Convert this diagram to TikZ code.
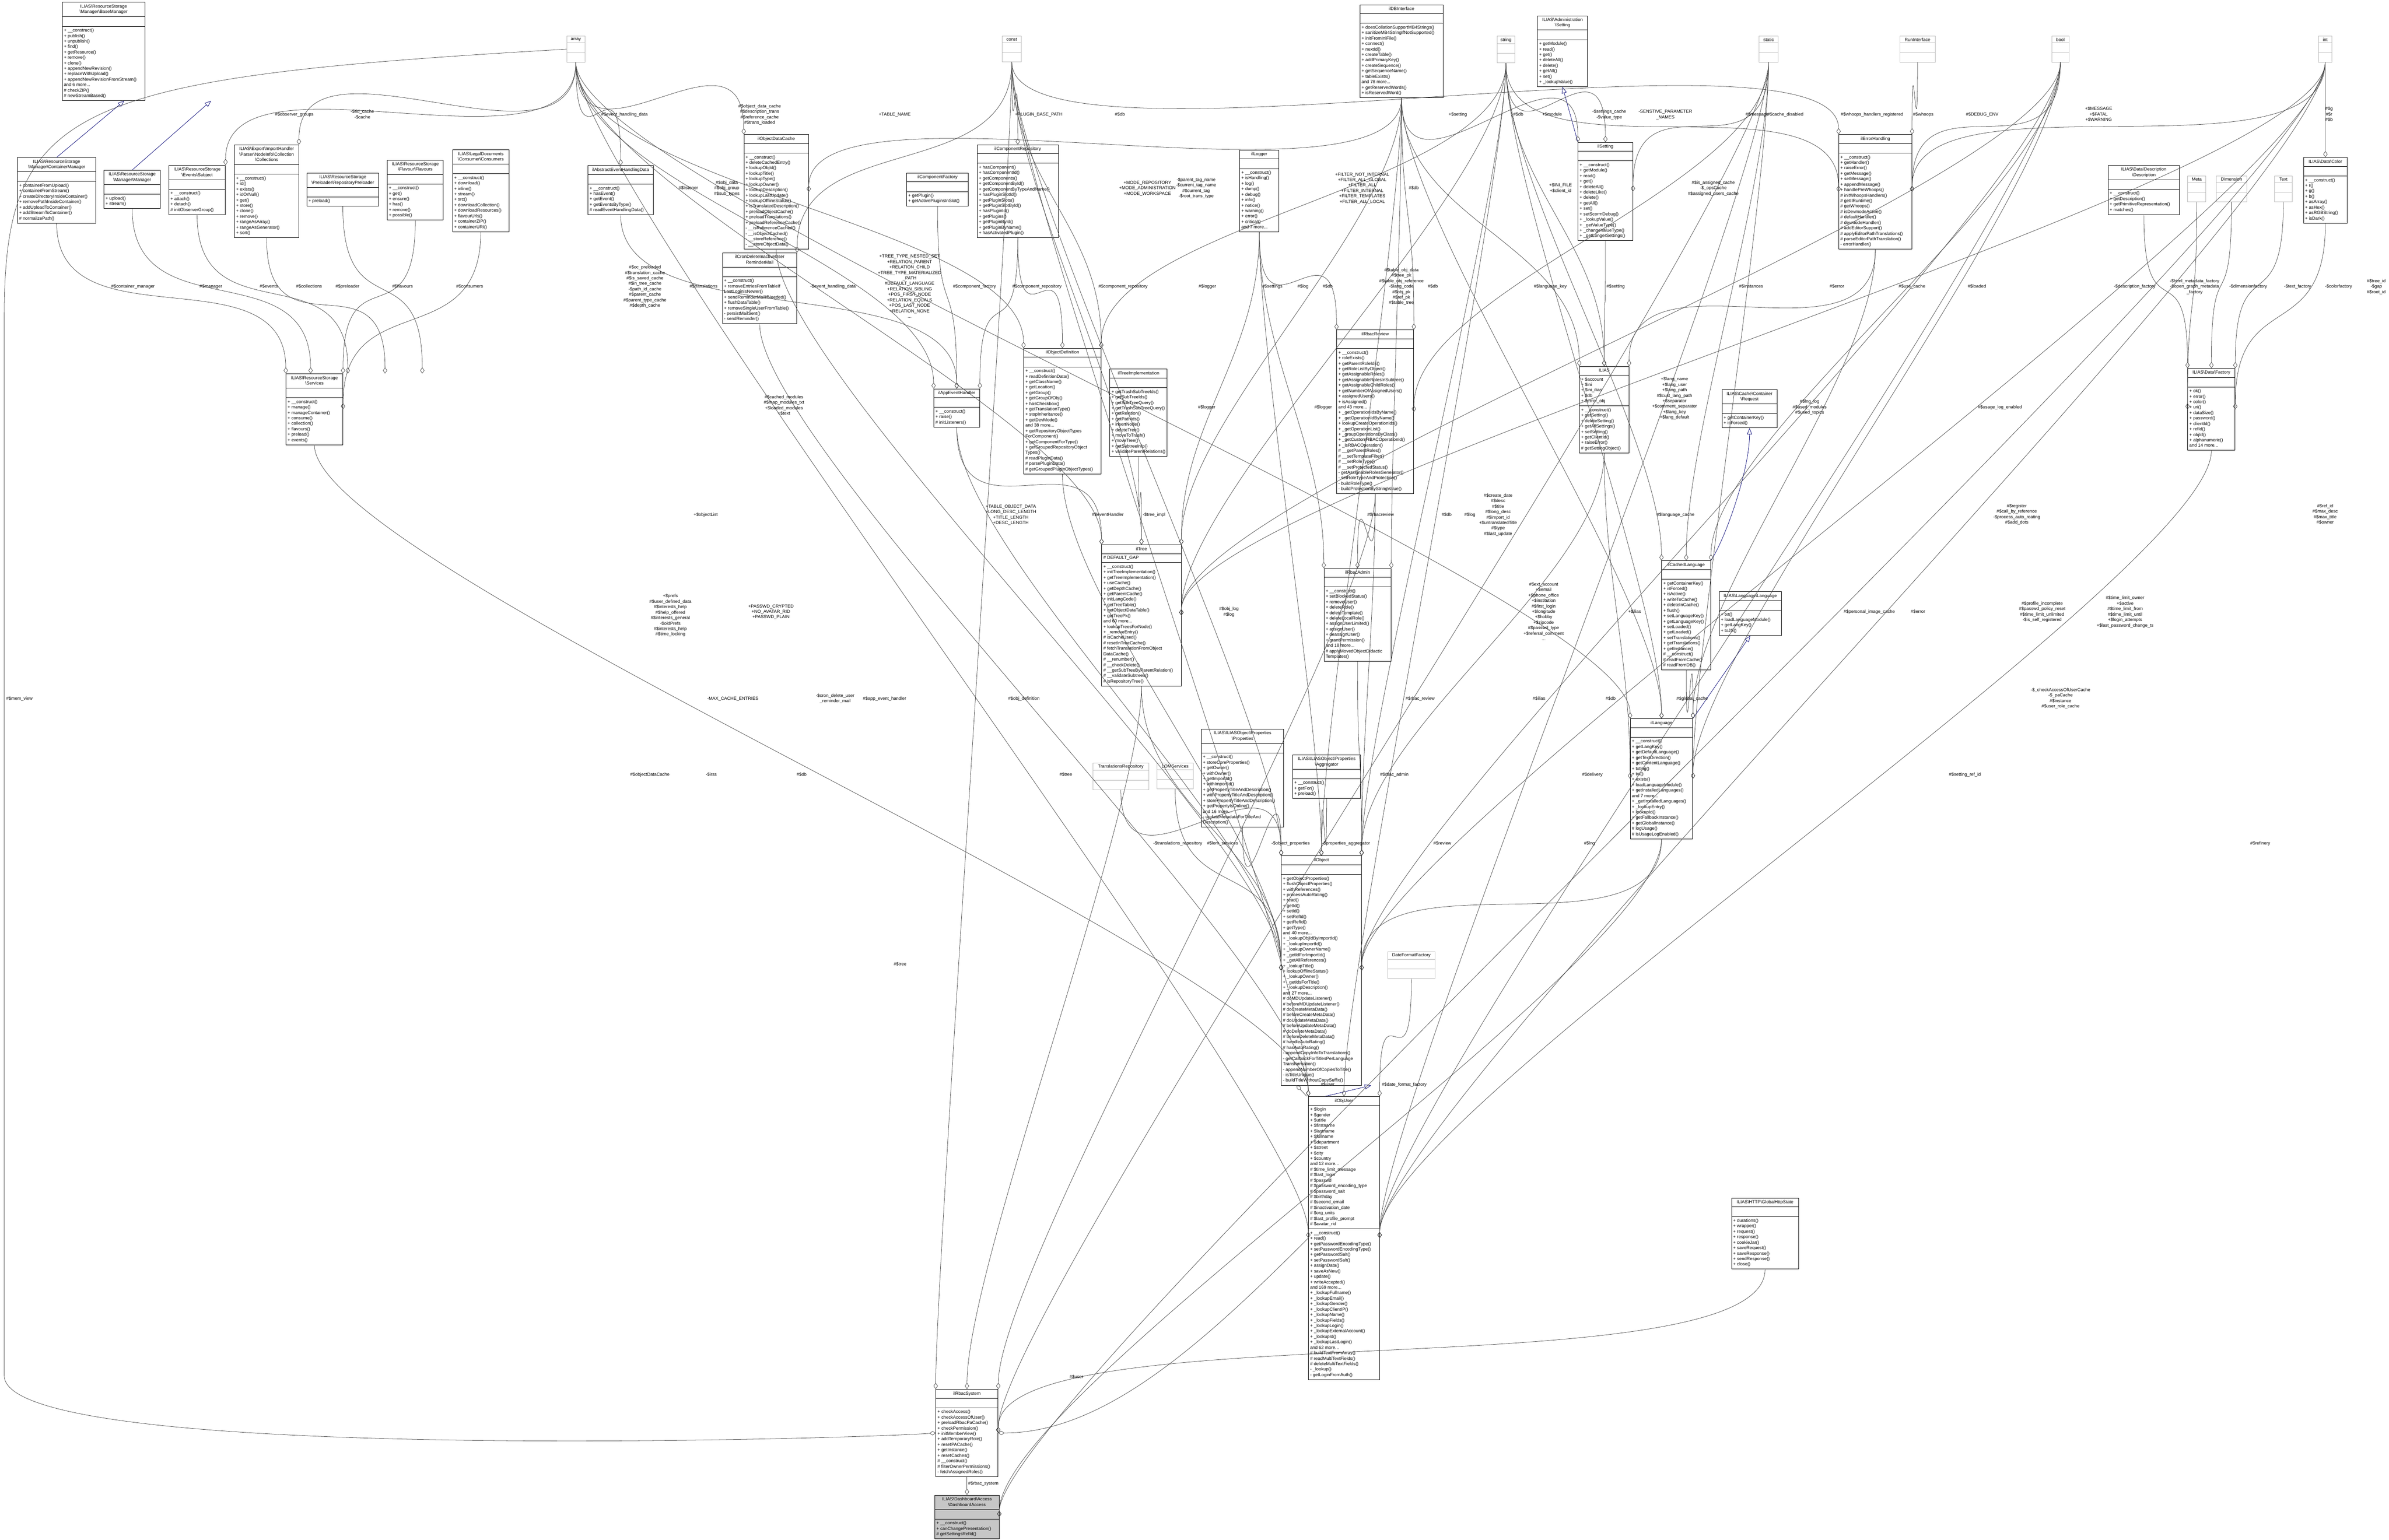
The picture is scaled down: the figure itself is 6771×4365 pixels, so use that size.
\documentclass[tikz,border=0pt]{standalone}
\usepackage{fontspec}
\setmainfont{Liberation Sans}
\usetikzlibrary{shapes.multipart,arrows.meta}
\newcommand\bs{\textbackslash}
\newcommand\tl[1]{\begin{tabular}{@{}c@{}}#1\end{tabular}}
\newcommand\ml[1]{\begin{tabular}{@{}l@{}}#1\end{tabular}}
\newcommand\es{\rule{0pt}{5pt}}
\newcommand\umlc[7]{\node[cls,minimum width=#4*0.01cm] (#1) at (#2,#3) {\tl{#5}\nodepart{second}#6\nodepart{third}#7};}
\newcommand\prim[5]{\node[prm,minimum width=#4*0.01cm] (#1) at (#2,#3) {#5\nodepart{second}\es\nodepart{third}\es};}
\newcommand\lab[4]{\node[lbl] (#1) at (#2,#3) {\tl{#4}};}
\newcommand\ag[2]{\draw[agg] (#1) .. controls +(0,350) and +(0,-350) .. (#2);}
\tikzset{
 cls/.style={rectangle split,rectangle split parts=3,draw=black,line width=0.35pt,fill=white,anchor=north west,
   inner xsep=1.3pt,inner ysep=1.2pt,rectangle split part align={center,left,left},font=\fontsize{3.6}{4.4}\selectfont},
 prm/.style={cls,draw=gray!55,rectangle split part align={center,center,center}},
 lbl/.style={font=\fontsize{3.6}{4.4}\selectfont,inner sep=0pt},
 agg/.style={draw=black!72,line width=0.3pt,-{Diamond[open,length=5pt,width=3.4pt]}},
 inh/.style={draw=blue!45!black,line width=0.3pt,-{Triangle[open,length=5pt,width=4pt]}},
}
\begin{document}
\begin{tikzpicture}[x=0.01cm,y=-0.01cm]
\useasboundingbox (0,0) rectangle (6771,4365);
% ---------- primitive boxes
\prim{array}{1606}{102}{51}{array}
\prim{const}{2840}{102}{54}{const}
\prim{string}{4242}{102}{51}{string}
\prim{static}{4985}{102}{54}{static}
\prim{runif}{5384}{102}{100}{RunInterface}
\prim{bool}{5815}{102}{48}{bool}
\prim{int}{6570}{102}{39}{int}
\prim{meta}{6200}{498}{51}{Meta}
\prim{dim}{6281}{498}{86}{Dimension}
\prim{text}{6446}{498}{50}{Text}
\prim{transrepo}{3097}{2162}{158}{TranslationsRepository}
\prim{lom}{3279}{2162}{102}{LOMServices}
\prim{datefmt}{3933}{2698}{133}{DateFormatFactory}
% ---------- classes
\umlc{basemgr}{176}{6}{234}{ILIAS\bs ResourceStorage\\\bs Manager\bs BaseManager}{\es}{\ml{+ \_\_construct()\\+ publish()\\+ unpublish()\\+ find()\\+ getResource()\\+ remove()\\+ clone()\\+ appendNewRevision()\\+ replaceWithUpload()\\+ appendNewRevisionFromStream()\\and 6 more...\\\# checkZIP()\\\# newStreamBased()}}
\umlc{contmgr}{49}{446}{222}{ILIAS\bs ResourceStorage\\\bs Manager\bs ContainerManager}{\es}{\ml{+ containerFromUpload()\\+ containerFromStream()\\+ createDirectoryInsideContainer()\\+ removePathInsideContainer()\\+ addUploadToContainer()\\+ addStreamToContainer()\\\# normalizePath()}}
\umlc{mgr}{294}{482}{160}{ILIAS\bs ResourceStorage\\\bs Manager\bs Manager}{\es}{\ml{+ upload()\\+ stream()}}
\umlc{subject}{478}{468}{160}{ILIAS\bs ResourceStorage\\\bs Events\bs Subject}{\es}{\ml{+ \_\_construct()\\+ attach()\\+ detach()\\\# initObserverGroup()}}
\umlc{colls}{664}{410}{182}{ILIAS\bs Export\bs ImportHandler\\\bs Parser\bs NodeInfo\bs Collection\\\bs Collections}{\es}{\ml{+ \_\_construct()\\+ id()\\+ exists()\\+ idOrNull()\\+ get()\\+ store()\\+ clone()\\+ remove()\\+ rangeAsArray()\\+ rangeAsGenerator()\\+ sort()}}
\umlc{preload}{869}{490}{204}{ILIAS\bs ResourceStorage\\\bs Preloader\bs RepositoryPreloader}{\es}{\ml{+ preload()}}
\umlc{flavours}{1097}{453}{159}{ILIAS\bs ResourceStorage\\\bs Flavour\bs Flavours}{\es}{\ml{+ \_\_construct()\\+ get()\\+ ensure()\\+ has()\\+ remove()\\+ possible()}}
\umlc{consumers}{1282}{424}{160}{ILIAS\bs LegalDocuments\\\bs Consumer\bs Consumers}{\es}{\ml{+ \_\_construct()\\+ download()\\+ inline()\\+ stream()\\+ src()\\+ downloadCollection()\\+ downloadResources()\\+ flavourUrls()\\+ containerZIP()\\+ containerURI()}}
\umlc{services}{810}{1059}{161}{ILIAS\bs ResourceStorage\\\bs Services}{\es}{\ml{+ \_\_construct()\\+ manage()\\+ manageContainer()\\+ consume()\\+ collection()\\+ flavours()\\+ preload()\\+ events()}}
\umlc{aehd}{1666}{469}{185}{ilAbstractEventHandlingData}{\es}{\ml{+ \_\_construct()\\+ hasEvent()\\+ getEvent()\\+ getEventsByType()\\\# readEventHandlingData()}}
\umlc{odc}{2108}{381}{183}{ilObjectDataCache}{\es}{\ml{+ \_\_construct()\\+ deleteCachedEntry()\\+ lookupObjId()\\+ lookupTitle()\\+ lookupType()\\+ lookupOwner()\\+ lookupDescription()\\+ lookupLastUpdate()\\+ lookupOfflineStatus()\\+ isTranslatedDescription()\\+ preloadObjectCache()\\+ preloadTranslations()\\+ preloadReferenceCache()\\- \_\_isReferenceCached()\\- \_\_isObjectCached()\\- \_\_storeReference()\\- \_\_storeObjectData()}}
\umlc{cron}{2047}{716}{211}{ilCronDeleteInactiveUser\\ReminderMail}{\es}{\ml{+ \_\_construct()\\+ removeEntriesFromTableIf\\LastLoginIsNewer()\\+ sendReminderMailIfNeeded()\\+ flushDataTable()\\+ removeSingleUserFromTable()\\- persistMailSent()\\- sendReminder()}}
\umlc{compfac}{2569}{490}{175}{ilComponentFactory}{\es}{\ml{+ getPlugin()\\+ getActivePluginsInSlot()}}
\umlc{comprepo}{2769}{410}{230}{ilComponentRepository}{\es}{\ml{+ hasComponent()\\+ hasComponentId()\\+ getComponents()\\+ getComponentById()\\+ getComponentByTypeAndName()\\+ hasPluginSlotId()\\+ getPluginSlots()\\+ getPluginSlotById()\\+ hasPluginId()\\+ getPlugins()\\+ getPluginById()\\+ getPluginByName()\\+ hasActivatedPlugin()}}
\umlc{objdef}{2901}{987}{219}{ilObjectDefinition}{\es}{\ml{+ \_\_construct()\\+ readDefinitionData()\\+ getClassName()\\+ getLocation()\\+ getGroup()\\+ getGroupOfObj()\\+ hasCheckbox()\\+ getTranslationType()\\+ stopInheritance()\\+ getDevMode()\\and 38 more...\\+ getRepositoryObjectTypes\\ForComponent()\\+ getComponentForType()\\+ getGroupedRepositoryObject\\Types()\\\# readPluginData()\\\# parsePluginData()\\\# getGroupedPluginObjectTypes()}}
\umlc{treeimpl}{3145}{1046}{150}{ilTreeImplementation}{\es}{\ml{+ getTrashSubTreeIds()\\+ getSubTreeIds()\\+ getSubTreeQuery()\\+ getTrashSubTreeQuery()\\+ getRelation()\\+ getPathIds()\\+ insertNode()\\+ deleteTree()\\+ moveToTrash()\\+ moveTree()\\+ getSubtreeInfo()\\+ validateParentRelations()}}
\umlc{appev}{2646}{1102}{130}{ilAppEventHandler}{\es}{\ml{+ \_\_construct()\\+ raise()\\\# initListeners()}}
\umlc{tree}{3122}{1544}{225}{ilTree}{\ml{\# DEFAULT\_GAP}}{\ml{+ \_\_construct()\\+ initTreeImplementation()\\+ getTreeImplementation()\\+ useCache()\\+ getDepthCache()\\+ getParentCache()\\+ initLangCode()\\+ getTreeTable()\\+ getObjectDataTable()\\+ getTreePk()\\and 60 more...\\+ lookupTreesForNode()\\+ \_removeEntry()\\\# isCacheUsed()\\\# resetInTreeCache()\\\# fetchTranslationFromObject\\DataCache()\\\# \_\_renumber()\\\# \_\_checkDelete()\\\# \_\_getSubTreeByParentRelation()\\\# \_\_validateSubtrees()\\\# isRepositoryTree()}}
\umlc{idb}{3854}{13}{235}{ilDBInterface}{\es}{\ml{+ doesCollationSupportMB4Strings()\\+ sanitizeMB4StringIfNotSupported()\\+ initFromIniFile()\\+ connect()\\+ nextId()\\+ createTable()\\+ addPrimaryKey()\\+ createSequence()\\+ getSequenceName()\\+ tableExists()\\and 78 more...\\+ getReservedWords()\\+ isReservedWord()}}
\umlc{admset}{4357}{44}{142}{ILIAS\bs Administration\\\bs Setting}{\es}{\ml{+ getModule()\\+ read()\\+ get()\\+ deleteAll()\\+ delete()\\+ getAll()\\+ set()\\+ \_lookupValue()}}
\umlc{logger}{3513}{425}{111}{ilLogger}{\es}{\ml{+ \_\_construct()\\+ isHandling()\\+ log()\\+ dump()\\+ debug()\\+ info()\\+ notice()\\+ warning()\\+ error()\\+ critical()\\and 7 more...}}
\umlc{setting}{4472}{403}{155}{ilSetting}{\es}{\ml{+ \_\_construct()\\+ getModule()\\+ read()\\+ get()\\+ deleteAll()\\+ deleteLike()\\+ delete()\\+ getAll()\\+ set()\\+ setScormDebug()\\+ \_lookupValue()\\+ \_getValueType()\\+ \_changeValueType()\\+ \_getLongerSettings()}}
\umlc{rbacrev}{3788}{935}{218}{ilRbacReview}{\es}{\ml{+ \_\_construct()\\+ roleExists()\\+ getParentRoleIds()\\+ getRoleListByObject()\\+ getAssignableRoles()\\+ getAssignableRolesInSubtree()\\+ getAssignableChildRoles()\\+ getNumberOfAssignedUsers()\\+ assignedUsers()\\+ isAssigned()\\and 43 more...\\+ \_getOperationIdsByName()\\+ \_getOperationIdByName()\\+ lookupCreateOperationIds()\\+ \_getOperationList()\\+ \_groupOperationsByClass()\\+ \_getCustomRBACOperationId()\\+ \_isRBACOperation()\\\# \_\_getParentRoles()\\\# \_\_setTemplateFilter()\\\# \_\_setRoleType()\\\# \_\_setProtectedStatus()\\- getAssignableRolesGenerator()\\- setRoleTypeAndProtection()\\- buildRoleType()\\- buildProtectionByStringValue()}}
\umlc{ilias}{4476}{1038}{140}{ILIAS}{\ml{+ \$account\\+ \$ini\\+ \$ini\_ilias\\+ \$db\\+ \$error\_obj}}{\ml{+ \_\_construct()\\+ getSetting()\\+ deleteSetting()\\+ getAllSettings()\\+ setSetting()\\+ getClientId()\\+ raiseError()\\\# getSettingObject()}}
\umlc{request}{4880}{1104}{156}{ILIAS\bs Cache\bs Container\\\bs Request}{\es}{\ml{+ getContainerKey()\\+ isForced()}}
\umlc{rbacadmin}{3752}{1611}{190}{ilRbacAdmin}{\es}{\ml{+ \_\_construct()\\+ setBlockedStatus()\\+ removeUser()\\+ deleteRole()\\+ deleteTemplate()\\+ deleteLocalRole()\\+ assignUserLimited()\\+ assignUser()\\+ deassignUser()\\+ grantPermission()\\and 18 more...\\\# applyMovedObjectDidactic\\Templates()}}
\umlc{cachedlang}{4709}{1589}{139}{ilCachedLanguage}{\es}{\ml{+ getContainerKey()\\+ isForced()\\+ isActive()\\+ writeToCache()\\+ deleteInCache()\\+ flush()\\+ setLanguageKey()\\+ getLanguageKey()\\+ setLoaded()\\+ getLoaded()\\+ setTranslations()\\+ getTranslations()\\+ getInstance()\\\# \_\_construct()\\\# readFromCache()\\\# readFromDB()}}
\umlc{langif}{4872}{1677}{176}{ILIAS\bs Language\bs Language}{\es}{\ml{+ txt()\\+ loadLanguageModule()\\+ getLangKey()\\+ toJS()}}
\umlc{lang}{4620}{2037}{177}{ilLanguage}{\es}{\ml{+ \_\_construct()\\+ getLangKey()\\+ getDefaultLanguage()\\+ getTextDirection()\\+ getContentLanguage()\\+ txtlng()\\+ txt()\\+ exists()\\+ loadLanguageModule()\\+ getInstalledLanguages()\\and 7 more...\\+ \_getInstalledLanguages()\\+ \_lookupEntry()\\+ lookupId()\\+ getFallbackInstance()\\+ getGlobalInstance()\\\# logUsage()\\\# isUsageLogEnabled()}}
\umlc{errh}{5211}{381}{207}{ilErrorHandling}{\es}{\ml{+ \_\_construct()\\+ getHandler()\\+ raiseError()\\+ getMessage()\\+ setMessage()\\+ appendMessage()\\+ handlePreWhoops()\\\# initWhoopsHandlers()\\\# getIlRuntime()\\\# getWhoops()\\\# isDevmodeActive()\\\# defaultHandler()\\\# devmodeHandler()\\\# addEditorSupport()\\\# applyEditorPathTranslations()\\\# parseEditorPathTranslation()\\- errorHandler()}}
\umlc{desc}{5974}{468}{203}{ILIAS\bs Data\bs Description\\\bs Description}{\es}{\ml{+ \_\_construct()\\+ getDescription()\\+ getPrimitiveRepresentation()\\+ matches()}}
\umlc{color}{6528}{446}{124}{ILIAS\bs Data\bs Color}{\es}{\ml{+ \_\_construct()\\+ r()\\+ g()\\+ b()\\+ asArray()\\+ asHex()\\+ asRGBString()\\+ isDark()}}
\umlc{datafac}{6200}{1044}{134}{ILIAS\bs Data\bs Factory}{\es}{\ml{+ ok()\\+ error()\\+ color()\\+ uri()\\+ dataSize()\\+ password()\\+ clientId()\\+ refId()\\+ objId()\\+ alphanumeric()\\and 14 more...}}
\umlc{props}{3404}{2066}{234}{ILIAS\bs ILIASObject\bs Properties\\\bs Properties}{\es}{\ml{+ \_\_construct()\\+ storeCoreProperties()\\+ getOwner()\\+ withOwner()\\+ getImportId()\\+ withImportId()\\+ getPropertyTitleAndDescription()\\+ withPropertyTitleAndDescription()\\+ storePropertyTitleAndDescription()\\+ getPropertyIsOnline()\\and 16 more...\\- updateMetadataForTitleAnd\\Description()}}
\umlc{aggr}{3663}{2139}{193}{ILIAS\bs ILIASObject\bs Properties\\\bs Aggregator}{\es}{\ml{+ \_\_construct()\\+ getFor()\\+ preload()}}
\umlc{obj}{3631}{2426}{227}{ilObject}{\es}{\ml{+ getObjectProperties()\\+ flushObjectProperties()\\+ withReferences()\\+ processAutoRating()\\+ read()\\+ getId()\\+ setId()\\+ setRefId()\\+ getRefId()\\+ getType()\\and 40 more...\\+ \_lookupObjIdByImportId()\\+ \_lookupImportId()\\+ \_lookupOwnerName()\\+ \_getIdForImportId()\\+ \_getAllReferences()\\+ \_lookupTitle()\\+ lookupOfflineStatus()\\+ \_lookupOwner()\\+ \_getIdsForTitle()\\+ \_lookupDescription()\\and 27 more...\\\# doMDUpdateListener()\\\# beforeMDUpdateListener()\\\# doCreateMetaData()\\\# beforeCreateMetaData()\\\# doUpdateMetaData()\\\# beforeUpdateMetaData()\\\# doDeleteMetaData()\\\# beforeDeleteMetaData()\\\# handleAutoRating()\\\# hasAutoRating()\\- appendCopyInfoToTranslations()\\- getCallbackForTitlesPerLanguage\\Transformation()\\- appendNumberOfCopiesToTitle()\\- isTitleUnique()\\- buildTitleWithoutCopySuffix()}}
\umlc{objuser}{3708}{3108}{201}{ilObjUser}{\ml{+ \$login\\+ \$gender\\+ \$utitle\\+ \$firstname\\+ \$lastname\\+ \$fullname\\+ \$department\\+ \$street\\+ \$city\\+ \$country\\and 12 more...\\\# \$time\_limit\_message\\\# \$last\_login\\\# \$passwd\\\# \$password\_encoding\_type\\\# \$password\_salt\\\# \$birthday\\\# \$second\_email\\\# \$inactivation\_date\\\# \$org\_units\\\# \$last\_profile\_prompt\\\# \$avatar\_rid}}{\ml{+ \_\_construct()\\+ read()\\+ getPasswordEncodingType()\\+ setPasswordEncodingType()\\+ getPasswordSalt()\\+ setPasswordSalt()\\+ assignData()\\+ saveAsNew()\\+ update()\\+ writeAccepted()\\and 169 more...\\+ \_lookupFullname()\\+ \_lookupEmail()\\+ \_lookupGender()\\+ \_lookupClientIP()\\+ \_lookupName()\\+ \_lookupFields()\\+ \_lookupLogin()\\+ \_lookupExternalAccount()\\+ \_lookupId()\\+ \_lookupLastLogin()\\and 62 more...\\\# buildTextFromArray()\\\# readMultiTextFields()\\\# deleteMultiTextFields()\\- \_lookup()\\- getLoginFromAuth()}}
\umlc{http}{4907}{3396}{190}{ILIAS\bs HTTP\bs GlobalHttpState}{\es}{\ml{+ durations()\\+ wrapper()\\+ request()\\+ response()\\+ cookieJar()\\+ saveRequest()\\+ saveResponse()\\+ sendResponse()\\+ close()}}
\umlc{rbacsys}{2652}{3938}{176}{ilRbacSystem}{\es}{\ml{+ checkAccess()\\+ checkAccessOfUser()\\+ preloadRbacPaCache()\\+ checkPermission()\\+ initMemberView()\\+ addTemporaryRole()\\+ resetPACache()\\+ getInstance()\\+ resetCaches()\\\# \_\_construct()\\\# filterOwnerPermissions()\\- fetchAssignedRoles()}}
\node[cls,fill=gray!45,minimum width=182*0.01cm] (dash) at (2649,4238) {\tl{ILIAS\bs Dashboard\bs Access\\\bs DashboardAccess}\nodepart{second}\es\nodepart{third}\ml{+ \_\_construct()\\+ canChangePresentation()\\\# getSettingsRefId()}};
% ---------- inheritance
\draw[inh] (contmgr.north) -- ([xshift=50]basemgr.south west);
\draw[inh] (mgr.north) -- ([xshift=120]basemgr.south west);
\draw[inh] (setting.north west) -- (admset.south);
\draw[inh] (cachedlang.north east) .. controls +(40,-60) and +(0,120) .. (request.south);
\draw[inh] (lang.north east) -- (langif.south);
\draw[inh] ([xshift=-15]objuser.north) -- ([xshift=40]obj.south);
% ---------- aggregation edges
\ag{contmgr.south}{services.north west}
\ag{mgr.south}{[xshift=20]services.north west}
\ag{subject.south}{[xshift=50]services.north west}
\ag{colls.south}{[xshift=80]services.north west}
\ag{preload.south}{[xshift=110]services.north west}
\ag{flavours.south}{services.north east}
\ag{consumers.south}{services.east}
\ag{array.south}{subject.north east}
\ag{array.south}{colls.north east}
\ag{array.south}{aehd.north}
\ag{array.south}{odc.north west}
\ag{array.south}{appev.north west}
\ag{array.south}{objdef.north west}
\ag{array.south}{tree.north west}
\ag{array.south}{lang.north west}
\ag{array.south}{objuser.west}
\draw[agg] (array.west) .. controls (200,220) and (12,300) .. (12,900) -- (12,3900) .. controls (12,4150) and (2400,4080) .. (rbacsys.west);
\ag{const.south}{cron.north east}
\ag{const.south}{comprepo.north}
\ag{const.south}{tree.north}
\ag{const.south}{objdef.north east}
\ag{const.south}{obj.north west}
\ag{const.south}{objuser.north west}
\ag{const.south}{rbacsys.north west}
\ag{const.south}{errh.north west}
\ag{idb.south}{odc.east}
\ag{idb.south}{tree.north east}
\ag{idb.south}{rbacrev.north east}
\ag{idb.south}{setting.north west}
\ag{idb.south}{ilias.north west}
\ag{idb.south}{rbacadmin.north east}
\ag{idb.south}{lang.north}
\ag{idb.south}{obj.north}
\ag{logger.south}{tree.north east}
\ag{logger.south}{rbacrev.north west}
\ag{logger.south}{obj.north}
\ag{logger.south}{rbacadmin.north west}
\ag{string.south}{objdef.north east}
\ag{string.south}{setting.north}
\ag{string.south}{tree.east}
\ag{string.south}{lang.north}
\ag{string.south}{cachedlang.north west}
\ag{string.south}{obj.north east}
\ag{string.south}{objuser.north}
\ag{string.south}{ilias.north}
\ag{string.south}{errh.west}
\ag{static.south}{setting.east}
\ag{static.south}{rbacrev.east}
\ag{static.south}{cachedlang.north}
\ag{static.south}{lang.east}
\ag{static.south}{objuser.east}
\ag{static.south}{rbacsys.east}
\ag{runif.south}{errh.north east}
\ag{bool.south}{errh.east}
\ag{bool.south}{cachedlang.north east}
\ag{bool.south}{tree.east}
\ag{bool.south}{lang.east}
\ag{bool.south}{obj.east}
\ag{bool.south}{objuser.east}
\ag{int.south}{errh.east}
\ag{int.south}{color.north}
\ag{int.south}{tree.east}
\ag{int.south}{obj.east}
\ag{int.south}{objuser.east}
\ag{int.south}{dash.east}
\ag{desc.south}{datafac.north west}
\ag{meta.south}{datafac.west}
\ag{dim.south}{datafac.north}
\ag{text.south}{datafac.north east}
\ag{color.south}{datafac.east}
\ag{datafac.south}{objuser.east}
\ag{errh.south}{ilias.north east}
\ag{errh.south}{lang.north east}
\ag{setting.south}{ilias.north}
\ag{ilias.south}{lang.west}
\ag{ilias.south}{obj.north east}
\ag{cachedlang.south}{lang.north east}
\ag{rbacrev.south}{rbacadmin.north}
\ag{rbacrev.south}{obj.north east}
\ag{rbacrev.south}{rbacsys.north east}
\ag{rbacadmin.south}{obj.north east}
\ag{services.south}{objuser.north west}
\ag{odc.south}{obj.west}
\ag{cron.south}{objuser.north west}
\ag{appev.south}{obj.west}
\ag{appev.south}{tree.north west}
\ag{aehd.south}{appev.north}
\ag{compfac.south}{appev.north}
\ag{comprepo.south}{appev.north east}
\ag{comprepo.south}{objdef.north}
\ag{objdef.south}{obj.west}
\ag{treeimpl.south}{tree.north}
\ag{tree.south}{obj.west}
\ag{tree.south}{rbacsys.north}
\ag{transrepo.south}{obj.north west}
\ag{lom.south}{obj.west}
\ag{props.south}{obj.north west}
\ag{aggr.south}{obj.north}
\ag{lang.south}{obj.east}
\ag{lang.south}{dash.east}
\ag{http.south}{rbacsys.east}
\ag{datefmt.south}{objuser.north east}
\draw[agg] ([xshift=-30]objuser.north) -- ([xshift=-20]obj.south);
\draw[agg] (objuser.west) .. controls +(-300,300) and +(300,0) .. (rbacsys.east);
\draw[agg] (rbacsys.south) -- (dash.north);
% ---------- edge labels
\lab{l1}{834}{325}{\#\$observer\_groups}
\lab{l2}{1027}{325}{-\$rid\_cache\\-\$cache}
\lab{l3}{377}{813}{\#\$container\_manager}
\lab{l4}{598}{813}{\#\$manager}
\lab{l5}{762}{813}{\#\$events}
\lab{l6}{876}{813}{\#\$collections}
\lab{l7}{985}{813}{\#\$preloader}
\lab{l8}{1141}{813}{\#\$flavours}
\lab{l9}{1331}{813}{\#\$consumers}
\lab{l10}{1770}{325}{\#\$event\_handling\_data}
\lab{l11}{2153}{325}{\#\$object\_data\_cache\\\#\$description\_trans\\\#\$reference\_cache\\\#\$trans\_loaded}
\lab{l12}{2536}{325}{+TABLE\_NAME}
\lab{l13}{2944}{325}{+PLUGIN\_BASE\_PATH}
\lab{l14}{3174}{325}{\#\$db}
\lab{l15}{1951}{534}{\#\$listener}
\lab{l16}{2060}{534}{\#\$obj\_data\\\#\$obj\_group\\\#\$sub\_types}
\lab{l17}{3252}{534}{+MODE\_REPOSITORY\\+MODE\_ADMINISTRATION\\+MODE\_WORKSPACE}
\lab{l18}{1828}{813}{\#\$oc\_preloaded\\\#\$translation\_cache\\\#\$is\_saved\_cache\\\#\$in\_tree\_cache\\-\$path\_id\_cache\\\#\$parent\_cache\\\#\$parent\_type\_cache\\\#\$depth\_cache}
\lab{l19}{1994}{813}{\#\$translations}
\lab{l20}{2361}{813}{-\$event\_handling\_data}
\lab{l21}{2578}{813}{+TREE\_TYPE\_NESTED\_SET\\+RELATION\_PARENT\\+RELATION\_CHILD\\+TREE\_TYPE\_MATERIALIZED\\\_PATH\\\#DEFAULT\_LANGUAGE\\+RELATION\_SIBLING\\+POS\_FIRST\_NODE\\+RELATION\_EQUALS\\+POS\_LAST\_NODE\\+RELATION\_NONE\\...}
\lab{l22}{2762}{813}{\#\$component\_factory}
\lab{l23}{2939}{813}{\#\$component\_repository}
\lab{l24}{3183}{813}{\#\$component\_repository}
\lab{l25}{4132}{325}{+\$setting}
\lab{l26}{4303}{325}{\#\$db}
\lab{l27}{4399}{325}{+\$module}
\lab{l28}{4561}{325}{-\$settings\_cache\\-\$value\_type}
\lab{l29}{4720}{325}{-SENSTIVE\_PARAMETER\\\_NAMES}
\lab{l30}{4980}{325}{\#\$message}
\lab{l31}{5060}{325}{\#\$cache\_disabled}
\lab{l32}{3861}{534}{+FILTER\_NOT\_INTERNAL\\+FILTER\_ALL\_GLOBAL\\+FILTER\_ALL\\+FILTER\_INTERNAL\\+FILTER\_TEMPLATES\\+FILTER\_ALL\_LOCAL}
\lab{l33}{4007}{534}{\#\$db}
\lab{l34}{4423}{534}{+\$INI\_FILE\\+\$client\_id}
\lab{l35}{4856}{534}{\#\$is\_assigned\_cache\\-\$\_opsCache\\\#\$assigned\_users\_cache}
\lab{l36}{3390}{534}{-\$parent\_tag\_name\\-\$current\_tag\_name\\\#\$current\_tag\\-\$root\_trans\_type}
\lab{l37}{3422}{813}{\#\$logger}
\lab{l38}{3606}{813}{\#\$settings}
\lab{l39}{3693}{813}{\#\$log}
\lab{l40}{3763}{813}{\#\$db}
\lab{l41}{3972}{813}{\#\$table\_obj\_data\\\#\$tree\_pk\\\#\$table\_obj\_reference\\-\$lang\_code\\\#\$obj\_pk\\\#\$ref\_pk\\\#\$table\_tree}
\lab{l42}{4061}{813}{\#\$db}
\lab{l43}{4394}{813}{\#\$language\_key}
\lab{l44}{4579}{813}{\#\$setting}
\lab{l45}{4963}{813}{\#\$instances}
\lab{l46}{5306}{325}{\#\$whoops\_handlers\_registered}
\lab{l47}{5451}{325}{\#\$whoops}
\lab{l48}{5618}{325}{\#\$DEBUG\_ENV}
\lab{l49}{5948}{325}{+\$MESSAGE\\+\$FATAL\\+\$WARNING}
\lab{l50}{6601}{325}{\#\$g\\\#\$r\\\#\$b}
\lab{l51}{5206}{813}{\#\$error}
\lab{l52}{5419}{813}{\#\$use\_cache}
\lab{l53}{5603}{813}{\#\$loaded}
\lab{l54}{6050}{813}{-\$description\_factory}
\lab{l55}{6220}{813}{-\$html\_metadata\_factory\\-\$open\_graph\_metadata\\\_factory}
\lab{l56}{6372}{813}{-\$dimensionfactory}
\lab{l57}{6512}{813}{-\$text\_factory}
\lab{l58}{6628}{813}{-\$colorfactory}
\lab{l59}{6735}{813}{\#\$tree\_id\\-\$gap\\\#\$root\_id}
\lab{l60}{2222}{1150}{\#\$cached\_modules\\\#\$map\_modules\_txt\\+\$loaded\_modules\\+\$text}
\lab{l61}{2000}{1460}{+\$objectList}
\lab{l62}{2865}{1460}{+TABLE\_OBJECT\_DATA\\+LONG\_DESC\_LENGTH\\+TITLE\_LENGTH\\+DESC\_LENGTH}
\lab{l63}{3140}{1460}{\#\$eventHandler}
\lab{l64}{3271}{1460}{-\$tree\_impl}
\lab{l65}{3420}{1155}{\#\$logger}
\lab{l66}{2185}{1735}{+PASSWD\_CRYPTED\\+NO\_AVATAR\_RID\\+PASSWD\_PLAIN}
\lab{l67}{3483}{1735}{\#\$obj\_log\\\#\$log}
\lab{l68}{1900}{1745}{+\$prefs\\\#\$user\_defined\_data\\\#\$interests\_help\\\#\$help\_offered\\\#\$interests\_general\\-\$oldPrefs\\\#\$interests\_help\\\#\$time\_locking}
\lab{l69}{2077}{1981}{-MAX\_CACHE\_ENTRIES}
\lab{l70}{2367}{1981}{-\$cron\_delete\_user\\\_reminder\_mail}
\lab{l71}{2507}{1981}{\#\$app\_event\_handler}
\lab{l72}{2902}{1981}{\#\$obj\_definition}
\lab{l73}{3750}{1155}{\#\$logger}
\lab{l74}{5129}{1155}{\#\$lng\_log\\\#\$used\_modules\\\#\$used\_topics}
\lab{l75}{4746}{1130}{+\$lang\_name\\+\$lang\_user\\+\$lang\_path\\\#\$cust\_lang\_path\\+\$separator\\+\$comment\_separator\\+\$lang\_key\\+\$lang\_default}
\lab{l76}{3913}{1460}{\#\$rbacreview}
\lab{l77}{4100}{1460}{\#\$db}
\lab{l78}{4166}{1460}{\#\$log}
\lab{l79}{4246}{1460}{\#\$create\_date\\\#\$desc\\\#\$title\\\#\$long\_desc\\\#\$import\_id\\+\$untranslatedTitle\\\#\$type\\\#\$last\_update}
\lab{l80}{4749}{1460}{\#\$language\_cache}
\lab{l81}{4375}{1735}{\#\$ext\_account\\+\$email\\+\$phone\_office\\+\$institution\\\#\$first\_login\\+\$longitude\\+\$hobby\\+\$zipcode\\\#\$passwd\_type\\+\$referral\_comment\\...}
\lab{l82}{4633}{1735}{+\$ilias}
\lab{l83}{4025}{1981}{\#\$rbac\_review}
\lab{l84}{4362}{1981}{\#\$ilias}
\lab{l85}{4565}{1981}{\#\$db}
\lab{l86}{4796}{1981}{\#\$global\_cache}
\lab{l87}{5668}{1155}{\#\$usage\_log\_enabled}
\lab{l88}{5716}{1459}{\#\$register\\\#\$call\_by\_reference\\-\$process\_auto\_reating\\\#\$add\_dots}
\lab{l89}{6590}{1459}{\#\$ref\_id\\\#\$max\_desc\\\#\$max\_title\\\#\$owner}
\lab{l90}{5298}{1735}{\#\$personal\_image\_cache}
\lab{l91}{5436}{1735}{\#\$error}
\lab{l92}{5788}{1735}{\#\$profile\_incomplete\\\#\$passwd\_policy\_reset\\\#\$time\_limit\_unlimited\\-\$is\_self\_registered}
\lab{l93}{6023}{1735}{\#\$time\_limit\_owner\\+\$active\\\#\$time\_limit\_from\\\#\$time\_limit\_until\\+\$login\_attempts\\+\$last\_password\_change\_ts}
\lab{l94}{5840}{1980}{-\$\_checkAccessOfUserCache\\-\$\_paCache\\\#\$instance\\\#\$user\_role\_cache}
\lab{l95}{5569}{2197}{\#\$setting\_ref\_id}
\lab{l96}{4505}{2392}{\#\$lng}
\lab{l97}{6406}{2392}{\#\$refinery}
\lab{l98}{4513}{2197}{\#\$delivery}
\lab{l99}{3952}{2197}{\#\$rbac\_admin}
\lab{l100}{2016}{2197}{-\$irss}
\lab{l101}{2272}{2197}{\#\$db}
\lab{l102}{3021}{2197}{\#\$tree}
\lab{l103}{1842}{2197}{\#\$objectDataCache}
\lab{l104}{55}{1981}{\#\$mem\_view}
\lab{l105}{3338}{2392}{-\$translations\_repository}
\lab{l106}{3465}{2392}{\#\$lom\_services}
\lab{l107}{3658}{2392}{-\$object\_properties}
\lab{l108}{3815}{2392}{-\$properties\_aggregator}
\lab{l109}{4088}{2392}{\#\$review}
\lab{l110}{2551}{2735}{\#\$tree}
\lab{l111}{3763}{3075}{\#\$user}
\lab{l112}{3980}{3075}{\#\$date\_format\_factory}
\lab{l113}{3051}{3904}{\#\$user}
\lab{l114}{2787}{4206}{\#\$rbac\_system}
\end{tikzpicture}
\end{document}
